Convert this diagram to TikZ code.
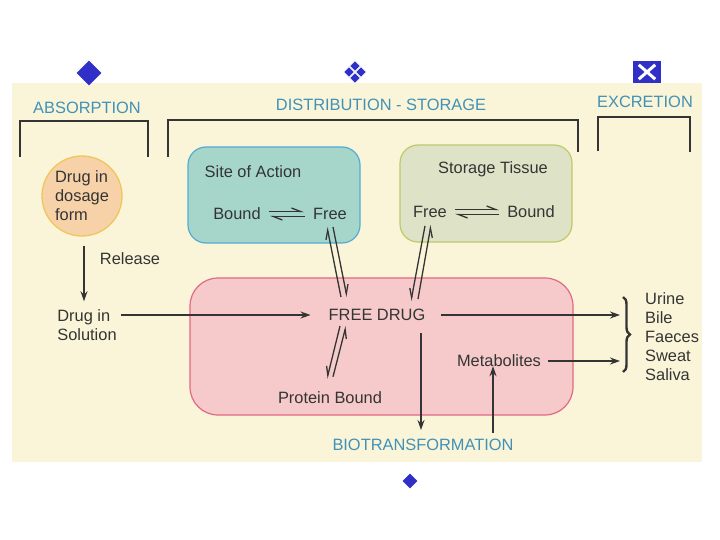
\documentclass[tikz,border=0pt]{standalone}
\usepackage{fontspec}
\setmainfont{Liberation Sans}
\usetikzlibrary{arrows.meta,decorations.pathreplacing,shapes.geometric}
\definecolor{cream}{RGB}{250,245,216}
\definecolor{head}{RGB}{66,145,182}
\definecolor{ink}{RGB}{52,52,52}
\definecolor{bul}{RGB}{48,48,200}
\definecolor{orfill}{RGB}{247,210,168}
\definecolor{ordraw}{RGB}{240,198,90}
\definecolor{tealfill}{RGB}{166,214,202}
\definecolor{tealdraw}{RGB}{82,172,212}
\definecolor{grfill}{RGB}{222,226,198}
\definecolor{grdraw}{RGB}{190,202,104}
\definecolor{pkfill}{RGB}{246,202,202}
\definecolor{pkdraw}{RGB}{226,104,132}
\tikzset{
  txt/.style={text=ink, inner sep=2pt},
  headtxt/.style={text=head, inner sep=2pt, font=\fontsize{16.4}{19}\selectfont},
  brk/.style={draw=ink, line width=1.4pt},
  arr/.style={draw=ink, line width=1.4pt, -{Stealth[length=10pt,width=7pt]}},
  harpL/.style={draw=ink, line width=1.3pt, -{Straight Barb[left,length=9pt,width=7pt]}},
  harpR/.style={draw=ink, line width=1.3pt, -{Straight Barb[right,length=9pt,width=7pt]}},
  bigdia/.style={diamond, fill=bul, inner sep=0pt, minimum width=#1, minimum height=#1},
}
\begin{document}
\begin{tikzpicture}[x=1pt,y=-1pt,font=\fontsize{16.4}{19}\selectfont]
\useasboundingbox (0,0) rectangle (720,540);
\fill[white] (0,0) rectangle (720,540);
\fill[cream] (12,83) rectangle (702,462);

% bullets
\node[bigdia=25pt] (b1) at (89,73) {};
\node[bigdia=11pt, draw=white, line width=0.6pt] (b2a) at (355,66) {};
\node[bigdia=11pt, draw=white, line width=0.6pt] (b2b) at (349,72) {};
\node[bigdia=11pt, draw=white, line width=0.6pt] (b2c) at (361,72) {};
\node[bigdia=11pt, draw=white, line width=0.6pt] (b2d) at (355,78) {};
\node[fill=bul, minimum width=28pt, minimum height=22pt, inner sep=0pt] (b3) at (647,72) {};
\draw[white, line width=3pt] ([shift={(6,4)}]b3.north west) -- ([shift={(-6,-4)}]b3.south east);
\draw[white, line width=3pt] ([shift={(6,-4)}]b3.south west) -- ([shift={(-6,4)}]b3.north east);
\node[bigdia=15pt] (b4) at (410,481) {};

% headings
\node[headtxt] (abs) at (87,108) {ABSORPTION};
\node[headtxt] (dist) at (381,105) {DISTRIBUTION - STORAGE};
\node[headtxt] (exc) at (645,102) {EXCRETION};
\node[headtxt] (bio) at (423,445) {BIOTRANSFORMATION};

% brackets
\draw[brk] (20,157) |- (148,121) -- (148,157);
\draw[brk] (168,157) |- (578,120) -- (578,152);
\draw[brk] (598,151) |- (690,117) -- (690,152);

% boxes
\node[circle, fill=orfill, draw=ordraw, line width=1.3pt, minimum size=80pt, inner sep=0pt,
      align=left, text=ink] (dose) at (82,196) {Drug in\\dosage\\form};
\draw[fill=tealfill, draw=tealdraw, line width=1.2pt, rounded corners=18pt] (188,147) rectangle (360,243);
\draw[fill=grfill, draw=grdraw, line width=1.2pt, rounded corners=18pt] (400,145) rectangle (572,242);
\draw[fill=pkfill, draw=pkdraw, line width=1.2pt, rounded corners=28pt] (190,278) rectangle (573,415);

% texts
\node[txt] (soa) at (253,172) {Site of Action};
\node[txt] (sb) at (237,214) {Bound};
\node[txt] (sf) at (330,214) {Free};
\node[txt] (st) at (493,169) {Storage Tissue};
\node[txt] (tf) at (430,212) {Free};
\node[txt] (tb) at (531,212) {Bound};
\node[txt] (fd) at (377,315) {FREE DRUG};
\node[txt] (pb) at (330,398) {Protein Bound};
\node[txt] (met) at (499,361) {Metabolites};
\node[txt] (rel) at (130,259) {Release};
\node[txt, align=left] (sol) at (87,325) {Drug in\\Solution};
\node[txt, align=left, anchor=west] (exl) at (643,337) {Urine\\Bile\\Faeces\\Sweat\\Saliva};

% helper coordinates
\coordinate (bx) at (620,0);
\coordinate (xd) at (421,0);
\coordinate (xm) at (493,0);
\coordinate (xr) at (84,0);

% arrows
\draw[arr, shorten <=9pt, shorten >=6pt] (dose.south -| xr) -- (sol.north -| xr);
\draw[arr, shorten <=2pt, shorten >=16pt] (sol.east |- fd) -- (fd.west);
\draw[arr, shorten <=14pt] (fd.east) -- (fd.east -| bx);
\draw[arr, shorten <=5pt] (met.east) -- (met.east -| bx);
\draw[arr, shorten <=10pt, shorten >=7pt] (fd.south -| xd) -- (bio.north -| xd);
\draw[arr, shorten <=4pt, shorten >=-3pt] (bio.north -| xm) -- (met.south -| xm);

% equilibria
\draw[harpL, shorten <=6pt, shorten >=7pt] ([yshift=2.5pt]sb.east) -- ([yshift=2.5pt]sf.west);
\draw[harpL, shorten <=6pt, shorten >=7pt] ([yshift=-2.5pt]sf.west) -- ([yshift=-2.5pt]sb.east);
\draw[harpL, shorten <=6pt, shorten >=6pt] ([yshift=2.5pt]tf.east) -- ([yshift=2.5pt]tb.west);
\draw[harpL, shorten <=6pt, shorten >=6pt] ([yshift=-2.5pt]tb.west) -- ([yshift=-2.5pt]tf.east);

\draw[harpL] ([shift={(-36,-10)}]fd.north) -- ([shift={(-3,5)}]sf.south);
\draw[harpL] ([shift={(3,5)}]sf.south) -- ([shift={(-30,-10)}]fd.north);
\draw[harpR] ([shift={(-5,6)}]tf.south) -- ([shift={(34,-6)}]fd.north);
\draw[harpR] ([shift={(41,-8)}]fd.north) -- ([shift={(1,5)}]tf.south);
\draw[harpR] ([shift={(-37,3)}]fd.south) -- ([shift={(-3,-11)}]pb.north);
\draw[harpR] ([shift={(3,-13)}]pb.north) -- ([shift={(-31,3)}]fd.south);

% brace
\draw[ink, line width=2.4pt, decorate, decoration={brace, amplitude=7pt}] (623,297) -- (623,372);
\end{tikzpicture}
\end{document}
